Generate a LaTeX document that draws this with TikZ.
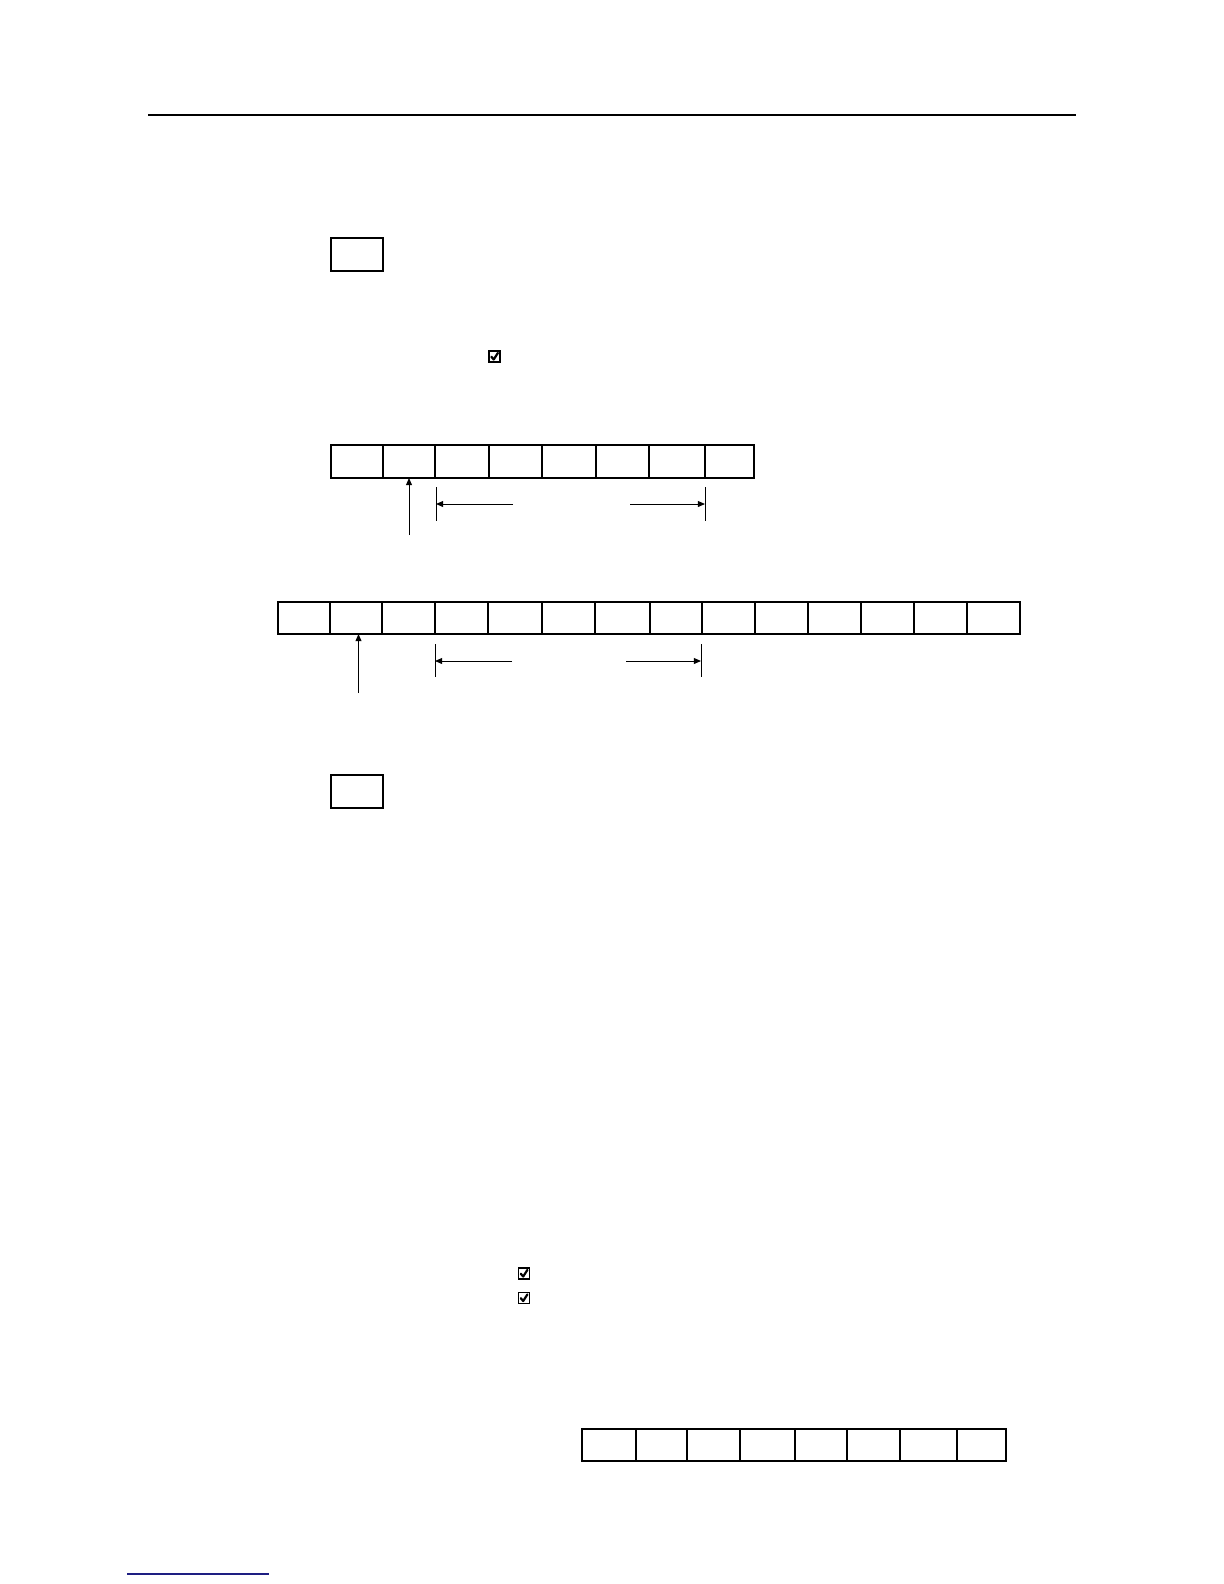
\documentclass[tikz,border=0pt]{standalone}
\usetikzlibrary{arrows.meta,calc}
\definecolor{footblue}{RGB}{30,30,130}
\tikzset{
  cell/.style={draw, rectangle, inner sep=0pt, outer sep=0pt, line width=0.55bp},
  tick/.style={line width=0.5bp},
  ptr/.style={line width=0.5bp, -{Triangle[length=3.6bp,width=3bp]}},
  chkbox/.style={draw, rectangle, inner sep=0pt, outer sep=0pt, minimum size=5.5bp, line width=0.85bp},
  chk/.style={line width=1.1bp, line cap=round, line join=round}
}
\begin{document}
\begin{tikzpicture}[x=0.5bp,y=-0.5bp]
\useasboundingbox (0,0) rectangle (1224,1584);
% header rule
\coordinate (hl) at (148,115);
\coordinate (hr) at (1076,115);
\draw[line width=0.75bp] (hl) -- (hr);
% footer rule
\coordinate (fl) at (127,1574);
\coordinate (fr) at (269,1574);
\draw[footblue, line width=0.6bp] (fl) -- (fr);
% single boxes
\node[cell, line width=0.75bp, minimum width=26bp, minimum height=16.5bp] (box1) at (357,254.5) {};
\node[cell, line width=0.75bp, minimum width=26bp, minimum height=16.5bp] (box2) at (357,791.5) {};
% checkboxes
\foreach \n/\x/\y in {cb1/494.5/356.5, cb2/524/1273.5, cb3/524/1298} {
  \node[chkbox] (\n) at (\x,\y) {};
  \draw[chk] ($(\n.center)+(-3.2,0.2)$) -- ($(\n.center)+(-0.8,3)$) -- ($(\n.center)+(3.4,-3.6)$);
}
% row 1
\foreach \a/\b [count=\i] in {331/383,383/435,435/489,489/542,542/596,596/649,649/705,705/754} {
  \pgfmathsetmacro{\w}{(\b-\a)/2}
  \node[cell, minimum width=\w bp, minimum height=16.5bp] (ra\i) at ({(\a+\b)/2},461.5) {};
}
% row 2
\foreach \a/\b [count=\i] in {278/330,330/382,382/435,435/488,488/542,542/595,595/650,650/702,702/755,755/808,808/861,861/914,914/967,967/1020} {
  \pgfmathsetmacro{\w}{(\b-\a)/2}
  \node[cell, minimum width=\w bp, minimum height=16bp] (rb\i) at ({(\a+\b)/2},618) {};
}
% row 3
\foreach \a/\b [count=\i] in {582/636,636/687,687/740,740/795,795/847,847/900,900/957,957/1006} {
  \pgfmathsetmacro{\w}{(\b-\a)/2}
  \node[cell, minimum width=\w bp, minimum height=16bp] (rc\i) at ({(\a+\b)/2},1445) {};
}
% row 1 pointers
\coordinate (pa) at (409,535);
\draw[ptr] (pa) -- (pa |- ra2.south);
\coordinate (ta1) at (436,487);
\coordinate (ta2) at (436,521);
\coordinate (tb1) at (705,487);
\coordinate (tb2) at (705,521);
\draw[tick] (ta1) -- (ta2);
\draw[tick] (tb1) -- (tb2);
\coordinate (aa) at (513,504);
\coordinate (ab) at (630,504);
\draw[ptr] (aa) -- (aa -| ta1);
\draw[ptr] (ab) -- (ab -| tb1);
% row 2 pointers
\coordinate (pb) at (358.5,693);
\draw[ptr] (pb) -- (pb |- rb2.south);
\coordinate (tc1) at (435,644);
\coordinate (tc2) at (435,677);
\coordinate (td1) at (701,644);
\coordinate (td2) at (701,677);
\draw[tick] (tc1) -- (tc2);
\draw[tick] (td1) -- (td2);
\coordinate (ba) at (512,661);
\coordinate (bb) at (626,661);
\draw[ptr] (ba) -- (ba -| tc1);
\draw[ptr] (bb) -- (bb -| td1);
\end{tikzpicture}
\end{document}
